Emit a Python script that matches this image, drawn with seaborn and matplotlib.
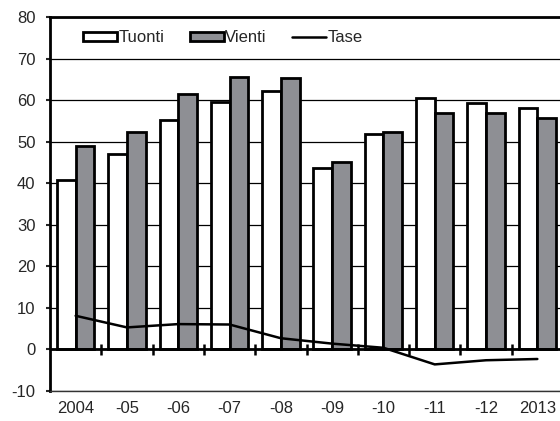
import numpy as np
import pandas as pd
import seaborn as sns
import matplotlib.pyplot as plt
from matplotlib.patches import Patch
from matplotlib.lines import Line2D

# Data
years = ['2004', '-05', '-06', '-07', '-08', '-09', '-10', '-11', '-12', '2013']
tuonti = [40.8, 47.0, 55.3, 59.5, 62.3, 43.6, 51.8, 60.4, 59.4, 58.1]
vienti = [48.9, 52.3, 61.4, 65.6, 65.4, 45.0, 52.3, 56.8, 56.8, 55.8]
tase = [8.1, 5.3, 6.1, 6.0, 2.7, 1.4, 0.4, -3.6, -2.6, -2.3]
series = ['Tuonti', 'Vienti']
colors = ['white', '#8e8f94']

df = pd.DataFrame({'year': years * 2,
                   'value': tuonti + vienti,
                   'series': ['Tuonti'] * len(years) + ['Vienti'] * len(years)})

sns.set_style('white')
plt.rcParams['font.family'] = ['Liberation Sans', 'DejaVu Sans']
plt.rcParams['axes.unicode_minus'] = False

fig = plt.figure(figsize=(5.6, 4.21), dpi=100)
ax = fig.add_axes([50 / 560, 1 - 391 / 421, 513 / 560, 374 / 421])

# gridlines behind bars
ax.set_axisbelow(True)
ax.yaxis.grid(True, color='black', lw=0.9)

sns.barplot(data=df, x='year', y='value', hue='series', order=years,
            palette=colors, edgecolor='black', linewidth=2, width=0.73,
            saturation=1, legend=False, ax=ax)

sns.lineplot(x=np.arange(len(years)), y=tase, color='black', lw=1.8, ax=ax)

# zero line with category tick marks
ax.axhline(0, color='black', lw=2, zorder=3)
ax.vlines(np.arange(0.5, len(years) - 1, 1), -1.4, 1.2, color='black', lw=1.8, zorder=3)

ax.set_xlim(-0.5, len(years) - 0.5)
ax.set_ylim(-10, 80)
ax.set_yticks(range(-10, 81, 10))
ax.set_xlabel('')
ax.set_ylabel('')
ax.tick_params(axis='x', length=0, pad=7, labelsize=12)
ax.tick_params(axis='y', length=3, width=1.5, direction='out', pad=7.5, labelsize=12, left=True)

ax.spines['right'].set_visible(False)
ax.spines['left'].set_linewidth(2)
ax.spines['top'].set_linewidth(2)
ax.spines['bottom'].set_linewidth(1)
ax.spines['bottom'].set_color('#333333')
for s in ['left', 'top']:
    ax.spines[s].set_color('black')

handles = [Patch(facecolor=colors[0], edgecolor='black', lw=2),
           Patch(facecolor=colors[1], edgecolor='black', lw=2),
           Line2D([], [], color='black', lw=1.8)]
ax.legend(handles, series + ['Tase'], loc='center left', bbox_to_anchor=(0.064, 0.944),
          ncol=3, frameon=False, fontsize=12, handlelength=2.05, handleheight=0.5,
          handletextpad=0.1, columnspacing=1.5, borderpad=0, borderaxespad=0)

fig.savefig('out.png', dpi=100)
